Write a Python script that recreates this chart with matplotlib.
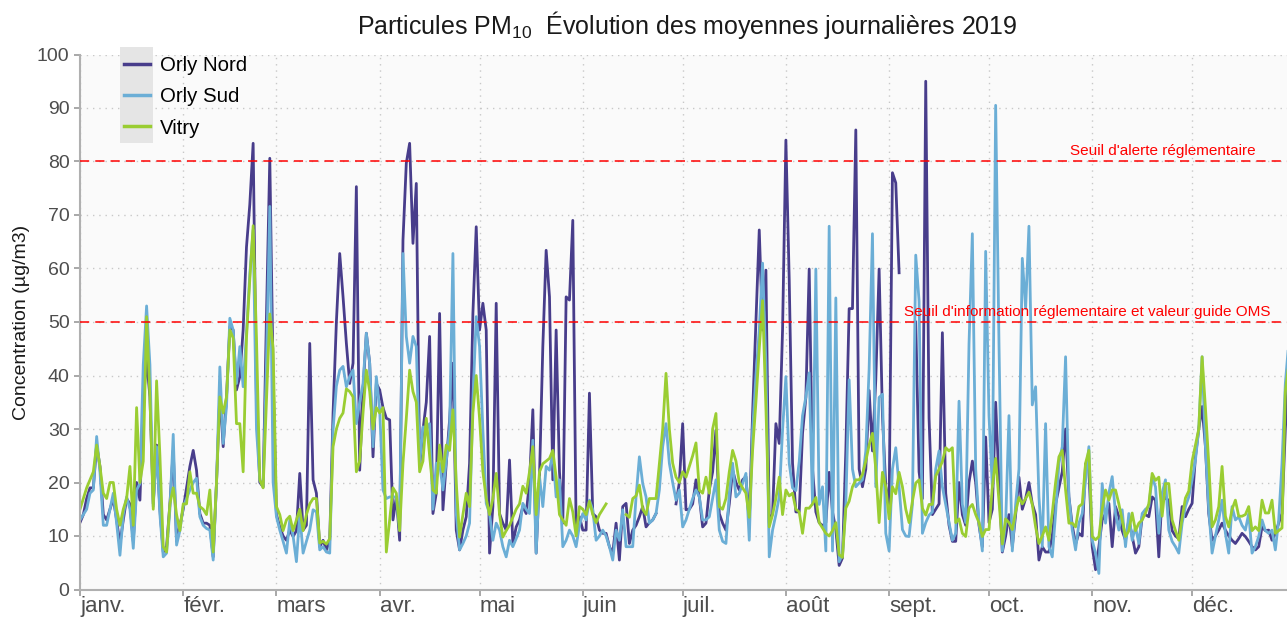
import numpy as np
import pandas as pd
import matplotlib
matplotlib.use("Agg")
import matplotlib.pyplot as plt
from matplotlib.patches import Rectangle

plt.rcParams['font.family'] = ['Liberation Sans', 'DejaVu Sans']
plt.rcParams['mathtext.fontset'] = 'custom'
plt.rcParams['mathtext.rm'] = 'Liberation Sans'
plt.rcParams['mathtext.it'] = 'Liberation Sans:italic'
plt.rcParams['mathtext.bf'] = 'Liberation Sans:bold'

nan = np.nan

# moyennes journalieres PM10 (ug/m3), une ligne par mois
orly_nord = [
    12.5, 14, 17, 19, 19, 27, 23, 14, 13, 15, 17, 13, 8.5, 13, 17, 16, 9, 20, 16.7, 35, 43, 36, 16, 27, 15, 7, 8, 16, 26, 9, 12,
    15, 19, 23, 26, 22.3, 14.2, 12.4, 12.4, 12, 6.1, 20, 36.7, 26.7, 36, 49.1, 48.5, 37.3, 39.8, 48.5, 64, 72, 83.4, 35, 20, 19.2, 51, 80.6, 40,
    14, 11.7, 10, 9.2, 11.1, 9.9, 11, 21.7, 11.1, 12, 46, 20.5, 18, 8, 9.2, 7.4, 9.2, 32.9, 50, 62.8, 54.7, 46, 38.5, 42.3, 75.3, 22.3, 37.3, 47.9, 42.3, 24.8, 38.5,
    37.3, 34, 32, 31.7, 13, 17.3, 9.2, 65.3, 79.7, 83.4, 64.7, 75.9, 23, 29.8, 35, 47.3, 14.2, 18, 51.6, 14.9, 23.6, 31.7, 42.3, 11.1, 7.4, 11.1, 13.6, 23.6, 51.6, 67.8,
    48.5, 53.5, 48.5, 6.8, 15.5, 53.5, 14.2, 12.4, 11.1, 24.2, 8.6, 11.7, 13, 15.5, 14.2, 20, 33.6, 6.8, 21.1, 45.4, 63.4, 54.7, 20.5, 48.5, 22, 12.4, 54.7, 54.1, 69, 11.1, 13.6,
    11.1, 11.1, 36.7, 14.2, 13.6, 11.1, 10.5, 10.5, 8, 6.8, 12.4, 5.5, 15.5, 16.1, 8.6, 11.1, 12, 13.6, 15.5, 11.7, 12.5, 13, 14.2, nan, nan, nan, nan, nan, 16, 20,
    31, 14.9, 15, 16, 20.5, 17.3, 11.7, 12.4, 18.6, 22, 29.8, 14.2, 12.4, 11.1, 16, 22.3, 20, 18.6, 20.5, 21.1, 12.4, 32.9, 50, 67.2, 48.5, 59.7, 12.4, 14.2, 31, 27.3, 48.5,
    84, 57.9, 23.6, 14.5, 14.5, 29.2, 35.9, 59.9, 22.5, 14.5, 12.5, 11.9, 12.5, 21.9, 14.5, 11.2, 4.5, 5.9, 25.9, 52.5, 52.5, 85.9, 22.5, 19.2, 22.5, 37.2, 25.9, 39.2, 59.9, 32.5, 19.2,
    15.9, 77.9, 76, 59.2, nan, nan, nan, nan, 50, 22, 17, 95, 32, 14, 15, 16, 48, 18, 12, 9, 9, 20, 14, 12, 20, 24, 20, 12, 8, 28.5,
    12.5, 15, 35, 20, 7, 10, 14, 8, 14, 21, 15, 17, 20, 16, 14, 5.5, 8, 7, 7, 10, 16, 19, 22, 30, 17.3, 12, 8.5, 10.5, 10, 23.5, 22.3,
    8, 3.7, 8, 13, 14.2, 16.1, 8, 15.5, 13.6, 11, 9.2, 13, 10, 6.8, 8, 13.6, 14, 13.6, 17.3, 16.7, 6.1, 18, 17, 16.7, 11, 10, 9.5, 15.5, 13.6, 15,
    16.1, 24.8, 30, 34.2, 26.7, 14.2, 9.2, 10, 11.1, 12.4, 11.1, 10, 9.2, 8.6, 9.5, 10.5, 9.9, 9, 8, 7.4, 8, 11.7, 11, 11.1, 9.2, 10.5, 12.4, 14.2, 30, 40, 42,
]

orly_sud = [
    13, 14, 15, 18, 18.6, 28.6, 22, 12, 12, 15, 18, 12.4, 6.4, 14, 17.3, 15, 7.7, 18.6, 19.8, 42, 53, 42, 15.5, 26.7, 14, 6.1, 6.8, 15, 29, 8.3, 11,
    15.5, 17, 18.6, 20, 20.8, 13.6, 12, 11.4, 11.1, 5.5, 20, 41.6, 27.3, 34.2, 50.7, 48.5, 38.5, 45.4, 37.9, 48, 59, 67.2, 30, 20.5, 19.2, 42.3, 71.6, 20,
    13.6, 11.1, 9, 6.8, 13, 10, 5.2, 14.2, 6.8, 9, 11.1, 14.9, 14.5, 7.4, 8, 7, 6.8, 29.8, 38, 41, 41.7, 37.9, 39.8, 41, 31, 35, 38.5, 47.9, 42.3, 26.7, 39.8,
    33.6, 18.6, 17, 17.3, 17.3, 17.3, 11.1, 62.8, 47.3, 42.3, 47.3, 45.4, 23.6, 30.4, 30, 31, 15, 23.6, 23.6, 18.6, 24, 29.8, 62.8, 14.2, 7.4, 8.6, 10, 12.4, 35.4, 51,
    45.4, 29.8, 16.1, 14.2, 9.2, 12.4, 11.1, 8, 6.1, 9.2, 8, 9.5, 11.1, 16.1, 15, 14.2, 27.9, 6.8, 21.1, 15.5, 23, 22.3, 25.5, 17.3, 20.5, 8, 9.2, 11.1, 10, 8, 12,
    14.2, 13, 16.7, 14.9, 9.2, 10, 11.1, 10, 8, 5.5, 11.1, 9.2, 14.9, 8, 8, 8, 17.3, 24.8, 19.8, 17.3, 12.4, 13, 14.2, 18.6, 26.7, 31, 23.6, 20, 16.7, 18.6,
    11.7, 13, 15, 17, 18.6, 17.3, 13, 13, 13.6, 17, 20.5, 11.1, 9, 8.6, 18, 23.6, 17.3, 18, 19.8, 21.7, 9.2, 29.8, 40, 48.5, 61, 42.3, 6.1, 11.1, 14, 17.3, 29.8,
    39.8, 23.6, 19, 18.5, 23.9, 32.5, 36, 40.5, 15.9, 59.9, 15.9, 19.2, 7.2, 67.9, 7.2, 54.5, 5.2, 6.5, 15.9, 39.2, 22.5, 19.2, 19.9, 20.5, 25.9, 41.2, 66.5, 19.2, 35.9, 36.5, 10.5,
    7.2, 22.5, 26.5, 19.2, 11.2, 10, 9.9, 15.9, 62.5, 53.9, 10.5, 12.5, 13.9, 14.5, 22.5, 25.9, 19.2, 15.9, 12.5, 9.2, 10.5, 35.2, 15.9, 12.5, 45.9, 66.5, 22.5, 12.5, 7.2, 63.2,
    32.5, 19.2, 90.5, 45.9, 7.2, 12.5, 32.5, 7.2, 15.9, 22.5, 61.9, 52.5, 67.9, 34.5, 37.9, 17.3, 8, 31, 8, 6.1, 14.2, 23.6, 26.7, 43.5, 17.3, 11.1, 7.4, 12.4, 14.2, 20.5, 26.7,
    9.2, 6.8, 3, 19.8, 12.4, 18, 21.1, 14.2, 11.1, 14.9, 8, 14.2, 9.2, 11.7, 8.6, 14.2, 15, 15.5, 21, 19.2, 10.5, 18, 20.5, 11.1, 9, 8, 6.8, 12.4, 15.5, 17.3,
    20.5, 24.2, 30, 43.5, 26.7, 15, 6.8, 10, 13, 16.7, 10.5, 6.8, 15.5, 13, 13.6, 12, 11.1, 14.2, 6.8, 8, 9.9, 13, 11, 10.5, 11.1, 7.4, 13, 23.6, 38.5, 46, 50,
]

vitry = [
    15, 17, 19, 20.5, 22, 27, 23, 18, 17, 20, 20, 15, 12, 15, 17, 23, 12, 34, 20, 24, 51, 36, 15, 39, 25, 8, 7, 16, 19, 14, 11,
    16, 16, 22, 18, 18, 15.5, 15, 14, 18.6, 7, 20, 36, 33, 36, 48.5, 47, 31, 31, 22, 47, 58, 68, 47, 20.5, 19, 35, 51.5, 45,
    15.5, 14, 11, 13, 13.7, 11, 13, 15, 11, 14, 16, 17, 17, 8.7, 9, 8.5, 9.5, 26.7, 30, 32, 33, 37.5, 37, 36, 22, 24, 33, 41, 37, 30, 34,
    33, 34, 7, 13, 19, 18, 11, 23.6, 32, 41, 37, 35, 22, 24, 32, 25, 18.6, 18, 27, 22, 27, 26, 33.6, 20, 9.8, 14, 18, 15.5, 33, 40,
    32, 22, 17, 14, 17, 21.7, 14, 9.8, 11, 12, 13.5, 15, 16, 19.3, 18, 22, 26.7, 14, 22, 23.5, 24, 24.5, 26, 21, 14, 13, 12, 17, 14.5, 10, 15.5,
    15, 14, 16.5, 14, 12.5, 14, 15, 16, nan, nan, nan, nan, nan, 14, 13.5, 17, 17.5, 19.5, 15, 14, 17, 17, 17, 23.6, 30, 40.4, 30, 23.6, 21, 20,
    22, 21, 23, 25, 27.4, 18.6, 18, 21, 18, 30, 32.9, 15.5, 15, 17, 22, 26, 24, 20, 19, 18, 13.5, 26, 35, 45, 54, 34, 11.7, 14, 17, 21, 14,
    18.6, 17.5, 18, 15, 14.5, 10.5, 15.2, 15.2, 16, 17.2, 12.5, 11.5, 10.5, 10, 11, 12.5, 6.5, 6, 15.2, 16.5, 19.2, 20.5, 20.5, 21.5, 24, 27, 29.2, 22.5, 12.5, 21.9, 19.2,
    13.2, 19.2, 17.9, 21.9, 19.2, 15, 12.5, 16.5, 19.9, 20.5, 15.2, 13.9, 15.9, 15.9, 21.2, 22.5, 23.9, 26.5, 25.9, 26.5, 12.5, 13.2, 10.5, 9.9, 15.2, 15.9, 14, 12.5, 9.9, 11.2,
    11.2, 19.2, 24.5, 16.5, 8.5, 13.2, 12.5, 11.2, 14.5, 17.2, 16, 17, 18.2, 15.9, 11.7, 8.6, 10, 11.7, 9.2, 14.3, 20, 24.8, 26, 18.6, 12.4, 12.4, 11.7, 15.5, 16, 23.6, 26,
    9.9, 9.3, 9.9, 15, 18.6, 16.7, 18.6, 18.6, 16, 13, 9.9, 11, 14.3, 11, 12.4, 13, 14.3, 16, 21.7, 20.4, 21, 13.7, 19.8, 19.8, 13, 11, 9.2, 13.4, 17.1, 18.4,
    24, 27, 30, 43.5, 34, 23.6, 11.7, 13, 15.5, 23, 13.7, 11.7, 15, 16.7, 13.7, 13.7, 14, 15.5, 11, 11.7, 11, 16.7, 14.3, 14.3, 16.7, 10.5, 11, 11.5, 37, 42, 45,
]

stations = ['Orly Nord', 'Orly Sud', 'Vitry']
colors = ['#483D8B', '#6BAED6', '#9ACD32']
month_labels = ['janv.', 'févr.', 'mars', 'avr.', 'mai', 'juin',
                'juil.', 'août', 'sept.', 'oct.', 'nov.', 'déc.']
seuils = [80, 50]
seuil_labels = ["Seuil d'alerte réglementaire",
                "Seuil d'information réglementaire et valeur guide OMS"]

days = pd.date_range('2019-01-01', '2019-12-31', freq='D')
month_starts = pd.date_range('2019-01-01', '2019-12-01', freq='MS')

W, H = 1287, 618
fig = plt.figure(figsize=(W / 100, H / 100), dpi=100)
ax = fig.add_axes([80 / W, 28.5 / H, 1207 / W, 535 / H])
ax.set_facecolor('#FAFAFA')

for name, vals, col in zip(stations, [orly_nord, orly_sud, vitry], colors):
    ax.plot(days, vals, color=col, lw=2.0, label=name, solid_joinstyle='round')

for s in seuils:
    ax.axhline(s, color='#FF0000', lw=1.1, dashes=(6, 4), zorder=3)
ax.text(pd.Timestamp('2019-12-20'), 80.6, seuil_labels[0], color='#FF0000',
        fontsize=11, ha='right', va='bottom')
ax.text(pd.Timestamp('2019-12-24') + pd.Timedelta(hours=12), 50.6, seuil_labels[1],
        color='#FF0000', fontsize=11, ha='right', va='bottom')

ax.set_ylim(0, 100)
ax.set_xlim(pd.Timestamp('2019-01-01'), pd.Timestamp('2019-01-01') + pd.Timedelta(days=362.5))
ax.set_yticks(range(0, 101, 10))
ax.set_xticks(month_starts)
ax.set_xticklabels(month_labels, ha='left')
ax.tick_params(axis='both', colors='#999999', labelcolor='#4D4D4D',
               length=4, width=1.2)
ax.tick_params(axis='y', labelsize=14)
ax.tick_params(axis='x', labelsize=16, pad=1)
ax.grid(True, color='#C8C8C8', lw=1, linestyle=(0, (1, 3.5)))
ax.set_axisbelow(True)
for side in ['top', 'right']:
    ax.spines[side].set_visible(False)
for side in ['left', 'bottom']:
    ax.spines[side].set_color('#B0B0B0')
    ax.spines[side].set_linewidth(1.5)

ax.set_ylabel('Concentration (µg/m3)', fontsize=14, color='#1A1A1A')
ax.yaxis.set_label_coords(-50 / 1207, 0.5)

fig.text(687 / W, 1 - 25 / H, 'Particules PM$_{10}$  Évolution des moyennes journalières 2019',
         ha='center', va='center', fontsize=18, color='#1A1A1A')

ax.add_patch(Rectangle((120 / W, 1 - 143 / H), 33 / W, 96 / H, transform=fig.transFigure,
                       facecolor='#E5E5E5', edgecolor='none', zorder=4, clip_on=False))
leg = ax.legend(loc='upper left', bbox_to_anchor=(124 / W, 1 - 56 / H),
                bbox_transform=fig.transFigure, frameon=False, fontsize=14.7,
                handlelength=1.25, handletextpad=0.5, labelspacing=0.6,
                borderpad=0, borderaxespad=0)
leg.set_zorder(5)
for line in leg.get_lines():
    line.set_linewidth(2.5)

fig.savefig('out.png', dpi=100)
